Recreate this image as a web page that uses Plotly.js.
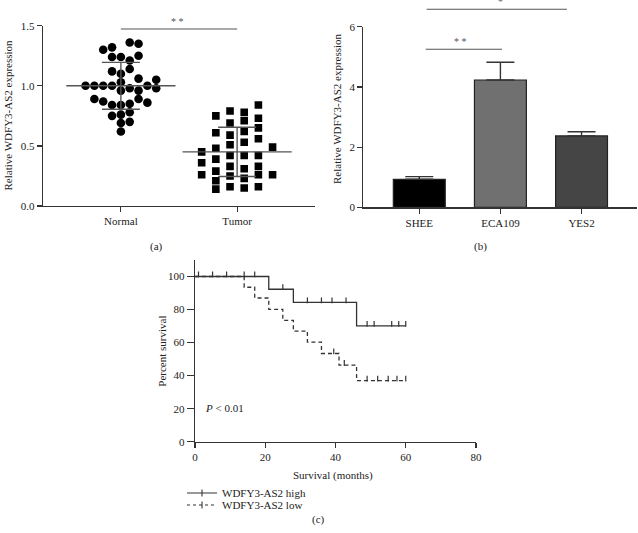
<!DOCTYPE html>
<html><head><meta charset="utf-8">
<script src="https://cdn.plot.ly/plotly-3.0.1.min.js"></script>
<style>html,body{margin:0;padding:0;background:#fff}#chart{width:638px;height:533px}</style>
</head><body><div id="chart"></div>
<script>
// ---------- panel (a) ----------
const groupNames = ['Normal', 'Tumor'];
const normalValues = [1.30,1.32,1.36,1.35,1.24,1.24,1.21,1.25,1.12,1.10,1.14,1.00,1.00,1.00,1.00,1.03,0.96,0.98,1.06,0.96,1.00,1.05,0.98,0.89,0.87,0.84,0.84,0.85,0.89,0.86,0.75,0.76,0.78,0.69,0.70,0.62];
const normalColumns = [-2,-1,1,2,-1,0,1,2,-1,0,1,-4,-3,-2,-1,0,0,1,2,2,3,4,4,-3,-2,-1,0,1,2,3,-1,0,1,0,1,0];
const tumorValues = [0.75,0.79,0.78,0.84,0.69,0.71,0.73,0.61,0.59,0.62,0.65,0.56,0.51,0.53,0.45,0.48,0.49,0.42,0.42,0.42,0.36,0.39,0.33,0.31,0.33,0.26,0.29,0.25,0.23,0.26,0.26,0.21,0.14,0.16,0.15,0.16];
const tumorColumns = [-1.5,-0.5,0.5,1.5,-0.5,0.5,1.5,-1.5,-0.5,0.5,1.5,1.5,-0.5,0.5,-2.5,-1.5,2.5,-0.5,0.5,1.5,-2.5,-1.5,-0.5,0.5,1.5,-2.5,-1.5,-0.5,0.5,1.5,2.5,-1.5,-1.5,-0.5,0.5,1.5];
const groupMeans = [1.00, 0.45];
const groupSD = [0.195, 0.205];
const sigA = {from: 0, to: 1, y: 1.472, label: '* *'};

// ---------- panel (b) ----------
const cellLines = ['SHEE', 'ECA109', 'YES2'];
const cellMeans = [0.93, 4.23, 2.37];
const cellSEM = [0.09, 0.59, 0.14];
const cellColors = ['#000000', '#707070', '#454545'];
const sigB1 = {from: 0.08, to: 1.02, y: 5.25, label: '* *'};
const sigB2 = {from: 0.09, to: 1.82, y: 6.58, label: '*'};

// ---------- panel (c) ----------
const highTimes = [0, 21, 28, 46, 60];
const highSurvival = [100, 92.3, 84.3, 70.1, 70.1];
const highCensored = [1, 5, 9, 14, 17, 25, 32, 36, 39, 43, 49, 51, 56, 58, 60];
const lowTimes = [0, 14, 17, 21, 25, 28, 32, 36, 41, 46, 60];
const lowSurvival = [100, 93.5, 87.0, 80.1, 73.5, 67.0, 60.3, 53.4, 46.4, 37.0, 37.0];
const lowCensored = [39.5, 42.5, 49, 52, 55, 57.5, 60];
const seriesNames = ['WDFY3-AS2 high', 'WDFY3-AS2 low'];
const survivalTicks = [0, 20, 40, 60, 80];
const percentTicks = [0, 20, 40, 60, 80, 100];

// ---------- helpers ----------
const W = 638, H = 533;
const px = v => v / W;
const py = v => (H - v) / H;
function stepAt(ts, ss, t) { let s = ss[0]; for (let i = 0; i < ts.length; i++) { if (ts[i] <= t) s = ss[i]; } return s; }

const FONT = 'Liberation Serif, Times New Roman, serif';
const INK = '#333';
const TXT = {family: FONT, size: 11, color: '#222'};
const baseAxis = {
  showline: true, linecolor: INK, linewidth: 1.2, ticks: 'outside', tickcolor: INK, tickwidth: 1.2,
  showgrid: false, zeroline: false, fixedrange: true, tickfont: TXT
};

const colA = 0.076, colT = 0.122;
const traces = [
  {type: 'scatter', mode: 'markers', xaxis: 'x', yaxis: 'y', showlegend: false,
   x: normalColumns.map(c => 0 + c * colA), y: normalValues,
   marker: {symbol: 'circle', size: 8.6, color: '#000'}},
  {type: 'scatter', mode: 'markers', xaxis: 'x', yaxis: 'y', showlegend: false,
   x: tumorColumns.map(c => 1 + c * colT), y: tumorValues,
   marker: {symbol: 'square', size: 7.6, color: '#000'}},
  {type: 'scatter', mode: 'markers', xaxis: 'x', yaxis: 'y', showlegend: false,
   x: [0, 1], y: groupMeans,
   marker: {symbol: 'line-ew-open', size: 78, color: '#555', line: {width: 1.4, color: '#555'}},
   error_y: {type: 'data', array: groupSD, visible: true, width: 19, thickness: 1.4, color: '#555'}},
  {type: 'bar', xaxis: 'x2', yaxis: 'y2', showlegend: false,
   x: [0, 1, 2], y: cellMeans, width: 0.64,
   marker: {color: cellColors, line: {color: '#222', width: 1.2}},
   error_y: {type: 'data', array: cellSEM, arrayminus: cellSEM.map(() => 0), symmetric: false, visible: true, width: 14, thickness: 1.4, color: INK}},
  {type: 'scatter', mode: 'lines', xaxis: 'x3', yaxis: 'y3', showlegend: false,
   x: highTimes, y: highSurvival, line: {shape: 'hv', color: INK, width: 1.3}},
  {type: 'scatter', mode: 'lines', xaxis: 'x3', yaxis: 'y3', showlegend: false,
   x: lowTimes, y: lowSurvival, line: {shape: 'hv', color: INK, width: 1.3, dash: '4px,3px'}},
  {type: 'scatter', mode: 'markers', xaxis: 'x3', yaxis: 'y3', showlegend: false,
   x: highCensored, y: highCensored.map(t => stepAt(highTimes, highSurvival, t)),
   marker: {size: 1, color: 'rgba(0,0,0,0)'},
   error_y: {type: 'data', symmetric: false, array: highCensored.map(() => 3), arrayminus: highCensored.map(() => 0.5), width: 0, thickness: 1.2, color: INK}},
  {type: 'scatter', mode: 'markers', xaxis: 'x3', yaxis: 'y3', showlegend: false,
   x: lowCensored, y: lowCensored.map(t => stepAt(lowTimes, lowSurvival, t)),
   marker: {size: 1, color: 'rgba(0,0,0,0)'},
   error_y: {type: 'data', symmetric: false, array: lowCensored.map(() => 3), arrayminus: lowCensored.map(() => 0.5), width: 0, thickness: 1.2, color: INK}},
  {type: 'scatter', mode: 'lines+markers', xaxis: 'x3', yaxis: 'y3', name: seriesNames[0], legend: 'legend',
   x: [null], y: [null], line: {color: INK, width: 1.2},
   marker: {symbol: 'line-ns-open', size: 5, line: {width: 1.1, color: INK}}},
  {type: 'scatter', mode: 'lines+markers', xaxis: 'x3', yaxis: 'y3', name: seriesNames[1], legend: 'legend2',
   x: [null], y: [null], line: {color: INK, width: 1.2, dash: '3px,3px'},
   marker: {symbol: 'line-ns-open', size: 5, line: {width: 1.1, color: INK}}}
];

const legendBase = {xanchor: 'left', yanchor: 'middle', bgcolor: 'rgba(0,0,0,0)', borderwidth: 0,
  itemwidth: 30, font: TXT};

const sigFont = {family: FONT, size: 10, color: '#555'};
function label(x, y, text, extra) {
  return Object.assign({xref: 'paper', yref: 'paper', x: px(x), y: py(y), xanchor: 'center', yanchor: 'middle',
    text: text, showarrow: false, font: TXT}, extra || {});
}
const layout = {
  width: W, height: H, margin: {l: 0, r: 0, t: 0, b: 0},
  paper_bgcolor: '#fff', plot_bgcolor: 'rgba(0,0,0,0)',
  font: TXT,
  xaxis: Object.assign({}, baseAxis, {domain: [px(43), px(315)], range: [-0.67, 1.67], tickvals: [0, 1], ticktext: groupNames, ticklen: 5, anchor: 'y'}),
  yaxis: Object.assign({}, baseAxis, {domain: [py(206), py(25.7)], range: [0, 1.5], dtick: 0.5, tickformat: '.1f', ticklen: 5, anchor: 'x'}),
  xaxis2: Object.assign({}, baseAxis, {domain: [px(363.3), px(636.7)], range: [-0.69, 2.68], tickvals: [0, 1, 2], ticktext: cellLines, ticklen: 5, anchor: 'y2'}),
  yaxis2: Object.assign({}, baseAxis, {domain: [py(207.3), py(26.7)], range: [0, 6], dtick: 2, ticklen: 5, anchor: 'x2'}),
  xaxis3: Object.assign({}, baseAxis, {domain: [px(195), px(476)], range: [0, 80], tickvals: survivalTicks, ticklen: 5, anchor: 'y3'}),
  yaxis3: Object.assign({}, baseAxis, {domain: [py(441.7), py(260)], range: [0, 110], tickvals: percentTicks, ticklen: 7, anchor: 'x3'}),
  showlegend: true,
  legend: Object.assign({}, legendBase, {x: px(182), y: py(493)}),
  legend2: Object.assign({}, legendBase, {x: px(182), y: py(505)}),
  shapes: [
    {type: 'line', xref: 'x', yref: 'y', x0: sigA.from, x1: sigA.to, y0: sigA.y, y1: sigA.y, line: {color: '#555', width: 1.1}},
    {type: 'line', xref: 'x2', yref: 'y2', x0: sigB1.from, x1: sigB1.to, y0: sigB1.y, y1: sigB1.y, line: {color: '#555', width: 1.1}},
    {type: 'line', xref: 'x2', yref: 'y2 domain', x0: sigB2.from, x1: sigB2.to, y0: sigB2.y / 6, y1: sigB2.y / 6, line: {color: '#555', width: 1.1}}
  ],
  annotations: [
    {xref: 'x', yref: 'y', x: (sigA.from + sigA.to) / 2 - 0.015, y: sigA.y, yshift: 0, xanchor: 'center', yanchor: 'bottom', text: sigA.label, showarrow: false, font: sigFont},
    {xref: 'x2', yref: 'y2', x: (sigB1.from + sigB1.to) / 2 - 0.04, y: sigB1.y, yshift: 0, xanchor: 'center', yanchor: 'bottom', text: sigB1.label, showarrow: false, font: sigFont},
    {xref: 'x2', yref: 'y2 domain', x: (sigB2.from + sigB2.to) / 2 + 0.05, y: sigB2.y / 6, yshift: 0, xanchor: 'center', yanchor: 'bottom', text: sigB2.label, showarrow: false, font: sigFont},
    label(7.5, 115, 'Relative WDFY3-AS2 expression', {textangle: -90}),
    label(337, 109, 'Relative WDFY3-AS2 expression', {textangle: -90}),
    label(161.7, 351, 'Percent survival', {textangle: -90}),
    label(332.7, 475, 'Survival (months)'),
    {xref: 'x3', yref: 'y3', x: 2.3, y: 20.5, xanchor: 'left', yanchor: 'middle', text: '<i>P</i> &lt; 0.01', showarrow: false, font: TXT},
    label(156, 246, '(a)'),
    label(480, 246, '(b)'),
    label(318, 519, '(c)')
  ]
};

Plotly.newPlot('chart', traces, layout, {staticPlot: true, displayModeBar: false});
</script>
</body></html>
